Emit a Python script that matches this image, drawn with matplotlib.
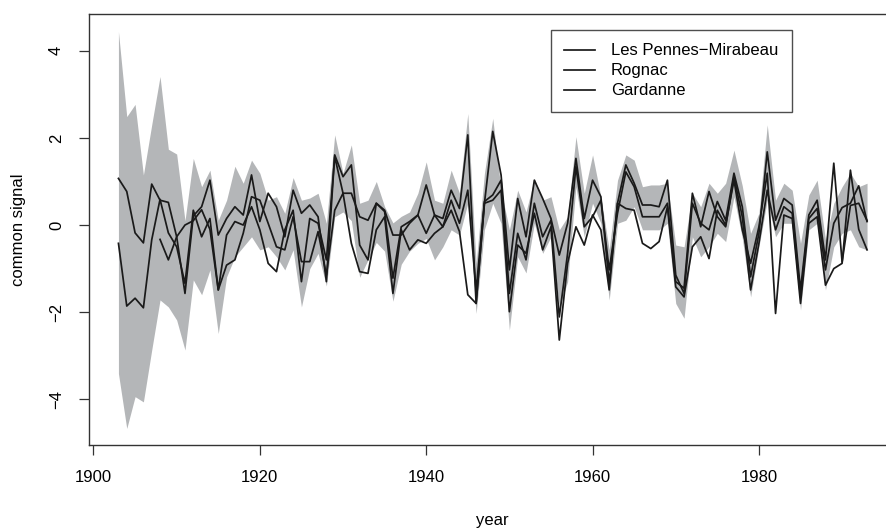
import matplotlib as mpl

mpl.use("Agg")
import matplotlib.pyplot as plt
import numpy as np

plt.rcParams["font.family"] = ["Liberation Sans", "DejaVu Sans"]

years = np.arange(1903, 1994)

band_upper = [
    4.44, 2.49, 2.77, 1.15, 2.30, 3.41, 1.74, 1.63, 0.10, 1.53,
    0.88, 1.26, 0.11, 0.57, 1.35, 0.96, 1.49, 1.19, 0.57, 0.65,
    0.27, 1.09, 0.57, 0.62, 0.73, 0.04, 2.07, 1.19, 1.84, 0.50,
    0.57, 1.00, 0.42, 0.05, 0.20, 0.30, 0.73, 1.45, 0.57, 0.50,
    1.26, 0.73, 2.56, -0.88, 1.19, 2.45, 0.80, -0.11, 0.80, 0.30,
    1.07, 0.57, 0.65, -0.11, 0.19, 2.03, 0.73, 1.61, 0.65, -0.57,
    1.03, 1.61, 1.49, 0.88, 0.92, 0.92, 0.96, -0.46, -0.50, 0.73,
    0.42, 0.96, 0.73, 0.96, 1.72, 0.90, -0.19, 0.27, 2.30, 0.57,
    0.96, 0.80, -0.42, 0.69, 1.03, -0.34, 0.50, 0.88, 1.19, 0.88,
    0.96,
]
band_lower = [
    -3.41, -4.67, -3.94, -4.06, -2.87, -1.72, -1.88, -2.18, -2.87, -1.26,
    -1.60, -1.03, -2.49, -1.19, -0.73, -0.50, -0.27, -0.57, -0.50, -0.73,
    -1.03, -0.57, -1.88, -1.00, -0.65, -1.40, 0.19, 0.30, 0.10, -1.20,
    -0.80, -0.40, -0.60, -1.75, -0.90, -0.60, -0.42, -0.31, -0.80, -0.50,
    -0.11, -0.23, 0.50, -2.03, -0.10, 0.50, 0.04, -2.41, -0.73, -1.10,
    0.04, -0.65, -0.27, -1.90, -1.30, 0.88, -0.27, 0.50, 0.04, -1.72,
    0.04, 0.11, 0.42, -0.11, -0.11, -0.11, 0.04, -1.80, -2.14, -0.27,
    -0.73, -0.50, -0.19, -0.38, 0.65, -0.30, -1.65, -0.50, 0.57, -0.27,
    0.04, 0.04, -1.95, -0.11, 0.04, -1.49, -0.50, -0.19, -0.11, -0.50,
    -0.57,
]

pennes = [
    1.07, 0.77, -0.18, -0.41, 0.94, 0.57, 0.52, -0.27, -1.57, 0.21,
    0.42, 1.03, -0.23, 0.15, 0.42, 0.23, 1.15, 0.08, 0.73, 0.42,
    -0.27, 0.80, 0.27, 0.46, 0.19, -1.30, 1.61, 1.11, 1.38, -0.46,
    -0.80, 0.50, 0.31, -1.22, -0.04, 0.08, 0.23, 0.92, 0.23, 0.15,
    0.80, 0.38, 2.07, -1.80, 0.50, 2.15, 1.15, -1.03, 0.61, -0.27,
    1.03, 0.61, 0.15, -0.69, 0.04, 1.53, 0.15, 1.03, 0.65, -1.34,
    0.50, 1.38, 0.96, 0.46, 0.46, 0.42, 1.03, -1.15, -1.57, 0.50,
    0.04, -0.11, 0.54, 0.11, 1.19, 0.42, -1.19, -0.19, 1.68, 0.11,
    0.61, 0.46, -1.49, 0.23, 0.57, -0.80, 1.42, -0.85, 0.45, 0.50,
    0.10,
]
rognac = [
    -0.42, -1.86, -1.68, -1.90, -0.34, 0.59, -0.18, -0.50, -1.34, 0.34,
    -0.27, 0.15, -1.49, -0.23, 0.08, 0.00, 0.42, -0.11, -0.88, -1.07,
    -0.11, 0.34, -1.30, 0.15, 0.04, -0.80, 1.57, 0.73, 0.73, 0.19,
    0.11, 0.50, 0.34, -0.23, -0.23, 0.04, 0.23, -0.19, 0.23, -0.04,
    0.57, 0.04, 0.80, -1.50, 0.54, 0.69, 1.03, -1.57, -0.19, -0.80,
    0.50, -0.27, 0.11, -2.11, -0.65, 1.34, -0.04, 0.19, 0.57, -1.03,
    0.27, 1.22, 0.88, 0.19, 0.19, 0.19, 0.50, -1.30, -1.45, 0.73,
    -0.04, 0.77, 0.19, -0.04, 1.11, 0.19, -1.49, -0.42, 0.80, -0.11,
    0.42, 0.27, -1.65, 0.15, 0.38, -1.03, 0.04, 0.40, 0.50, 0.90,
    0.08,
]
# Gardanne has no record before 1908
gardanne = [
    np.nan, np.nan, np.nan, np.nan, np.nan, -0.33, -0.80, -0.27, 0.00, 0.10,
    0.35, -0.10, -1.49, -0.92, -0.80, -0.19, 0.65, 0.57, 0.04, -0.50,
    -0.57, 0.19, -0.84, -0.84, -0.15, -1.15, 0.34, 0.73, -0.42, -1.07,
    -1.11, -0.11, 0.19, -1.57, -0.11, -0.57, -0.34, -0.42, -0.19, -0.04,
    0.34, -0.15, -1.60, -1.80, 0.50, 0.57, 0.80, -1.99, -0.46, -0.65,
    0.27, -0.57, -0.04, -2.64, -0.88, -0.04, -0.46, 0.23, -0.11, -1.49,
    0.50, 0.38, 0.34, -0.42, -0.54, -0.38, 0.42, -1.42, -1.65, -0.50,
    -0.27, -0.77, 0.34, 0.00, 1.03, -0.11, -0.88, -0.04, 1.19, -2.03,
    0.23, 0.15, -1.80, 0.04, 0.19, -1.38, -1.00, -0.88, 1.26, -0.10,
    -0.57,
]

series = {
    "Les Pennes\u2212Mirabeau": pennes,
    "Rognac": rognac,
    "Gardanne": gardanne,
}

W, H = 886, 529
fig = plt.figure(figsize=(W / 100, H / 100), dpi=100)
# plot region in pixels: left, top, right, bottom
left, top, right, bottom = 88.5, 14, 897, 445
ax = fig.add_axes([left / W, 1 - bottom / H, (right - left) / W, (bottom - top) / H])

ax.fill_between(years, band_lower, band_upper, color="#b4b6b8", lw=0, zorder=1)
for name, vals in series.items():
    ax.plot(years, vals, color="#1a1a1a", lw=1.25, label=name, zorder=2)

ax.set_xlim(1899.4, 1996.6)
ax.set_ylim(-5.05, 4.845)
ax.set_xticks([1900, 1920, 1940, 1960, 1980])
ax.set_yticks([-4, -2, 0, 2, 4])
ax.tick_params(direction="out", length=7.2, width=0.9, labelsize=12, pad=10.5,
               color="#333333")
for lab in ax.get_yticklabels():
    lab.set_rotation(90)
    lab.set_va("center")
for sp in ax.spines.values():
    sp.set_linewidth(1.0)
    sp.set_color("#333333")

ax.set_xlabel("year", fontsize=12)
ax.set_ylabel("common signal", fontsize=12)
ax.xaxis.set_label_coords(0.5, (bottom - 520) / (bottom - top))
ax.yaxis.set_label_coords((18 - left) / (right - left), 0.5)
ax.xaxis.label.set_va("center")
ax.yaxis.label.set_va("center")

leg = ax.legend(
    loc="upper left",
    bbox_to_anchor=(551 / W, 1 - 30 / H),
    bbox_transform=fig.transFigure,
    fontsize=12,
    frameon=True,
    fancybox=False,
    borderpad=0.8,
    borderaxespad=0,
    handlelength=1.85,
    handletextpad=0.95,
    labelspacing=0.3,
)
leg.get_frame().set_edgecolor("#222222")
leg.get_frame().set_linewidth(1.0)
for line in leg.get_lines():
    line.set_linewidth(1.25)

fig.savefig("out.png", dpi=100)
